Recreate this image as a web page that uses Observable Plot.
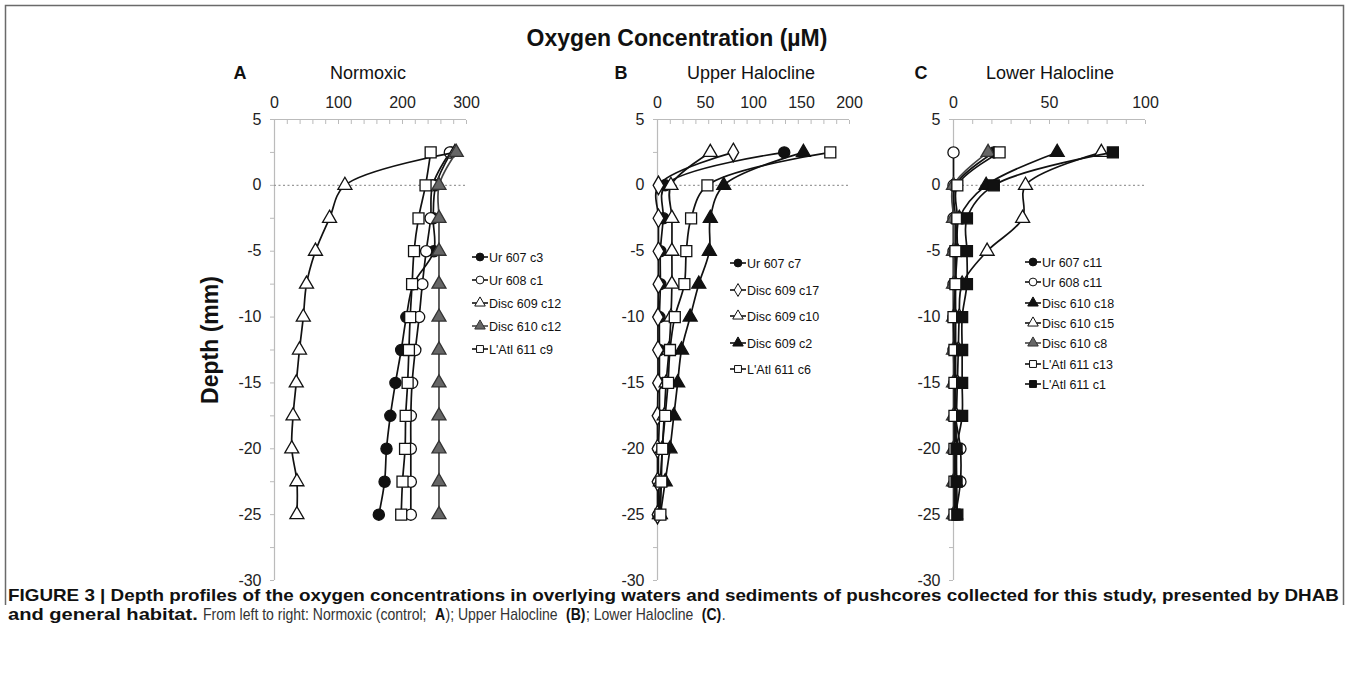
<!DOCTYPE html>
<html>
<head>
<meta charset="utf-8">
<script src="https://cdn.jsdelivr.net/npm/d3@7"></script>
<script src="https://cdn.jsdelivr.net/npm/@observablehq/plot@0.6"></script>
<style>
  html, body { margin: 0; padding: 0; background: #fff; }
  #page { position: relative; width: 1349px; height: 694px; overflow: hidden; font-family: "Liberation Sans", Arial, sans-serif; }
  .panel { position: absolute; top: 89px; }
  #overlay { position: absolute; left: 0; top: 0; }
</style>
</head>
<body>
<div id="page">
  <svg id="overlay" width="1349" height="694"></svg>
  <div class="panel" id="pA" style="left:214px"></div>
  <div class="panel" id="pB" style="left:597px"></div>
  <div class="panel" id="pC" style="left:893px"></div>
</div>
<script>
// ---------------- DATA ----------------
const depths = [2.5, 0, -2.5, -5, -7.5, -10, -12.5, -15, -17.5, -20, -22.5, -25];

// Panel A: Normoxic
const normoxicSeries = ["Ur 607 c3", "Ur 608 c1", "Disc 609 c12", "Disc 610 c12", "L'Atl 611 c9"];
const ur607c3  = [276, 252, 248, 249, 217, 206, 198, 189, 181, 175, 172, 163];
const ur608c1  = [274, 247, 244, 237, 231, 226, 220, 215, 213, 213, 213, 213];
const disc609c12 = [282, 110, 86, 64, 50, 45, 39, 34, 29, 27, 35, 35];
const disc610c12 = [284, 257, 257, 257, 257, 257, 257, 257, 257, 257, 257, 257];
const latl611c9 = [244, 236, 225, 218, 215, 212, 210, 208, 205, 204, 200, 198];

// Panel B: Upper Halocline
const upperSeries = ["Ur 607 c7", "Disc 609 c17", "Disc 609 c10", "Disc 609 c2", "L'Atl 611 c6"];
const ur607c7  = [132, 8, 6, 3, 3, 2, 2, 2, 2, 1, 1, 1];
const disc609c17 = [79, 1, 1, 1, 1, 0.5, 0.5, 0.5, 0, 0, 0, 0];
const disc609c10 = [55, 14, 15, 15, 15, 14, 12, 9, 7, 5, 3, 2];
const disc609c2  = [152, 69, 55, 54, 43, 34, 25, 21, 17, 13, 8, 3];
const latl611c6  = [180, 52, 35, 30, 28, 18, 13, 11, 8, 5, 4, 3];

// Panel C: Lower Halocline
const lowerSeries = ["Ur 607 c11", "Ur 608 c11", "Disc 610 c18", "Disc 610 c15", "Disc 610 c8", "L'Atl 611 c13", "L'Atl 611 c1"];
const ur607c11 = [21, 1, 1, 1, 1, 1, 1, 1, 1, 1.5, 1.5, 1.5];
const ur608c11 = [0, 0, 0, 0, 0, 0, 0, 0.5, 1, 3.6, 3.6, 1];
const disc610c18 = [54, 17, 3, 2, 1, 1, 1, 1, 1, 1, 1, 1];
const disc610c15 = [77, 37.5, 36, 17.5, 4.5, 3, 2.5, 2, 1.5, 1, 1, 1];
const disc610c8  = [18, 0, 0, 0, 0, 0, 0, 0, 0, 0, 0, 0];
const latl611c13 = [24, 2, 2, 1, 1, 0, 0.5, 0.5, 0.5, 0.5, 0.5, 0.5];
const latl611c1  = [83, 21, 7, 7, 7, 4.5, 4.5, 4.5, 4.5, 1.6, 1.6, 2];

const depthTicks = [5, 0, -5, -10, -15, -20, -25, -30];
const xTicksA = [0, 100, 200, 300];
const xTicksB = [0, 50, 100, 150, 200];
const xTicksC = [0, 50, 100];

// ---------------- STYLES ----------------
const K = "#111", G = "#666";
const sty = {
  fc:  {symbol: "circle",   fill: K, stroke: K, line: K},
  oc:  {symbol: "circle",   fill: "#fff", stroke: K, line: K},
  ot:  {symbol: "triangle", fill: "#fff", stroke: K, line: K},
  gt:  {symbol: "triangle", fill: G, stroke: "#333", line: "#444"},
  ft:  {symbol: "triangle", fill: K, stroke: K, line: K},
  os:  {symbol: "square",   fill: "#fff", stroke: K, line: K},
  fs:  {symbol: "square",   fill: K, stroke: K, line: K},
  od:  {symbol: "diamond",  fill: "#fff", stroke: K, line: K}
};
const symR = {circle: 5.6, triangle: 5.2, square: 6.2, diamond: 5.6};
const hyphen = d => String(d);

function panel(el, series, values, styles, xMax, xTicks, minorStep) {
  const plotW = 192, plotH = 461;
  const mL = 60, mR = 14, mT = 30, mB = 14;
  const minor = d3.range(0, xMax + 1e-6, minorStep);
  const minorY = d3.range(-30, 5 + 1e-6, 2.5);
  const marks = [
    Plot.ruleY([5], {stroke: "#bbb", strokeWidth: 1.2}),
    Plot.ruleX([0], {y1: -30, y2: 5, stroke: "#bbb", strokeWidth: 1.2}),
    Plot.axisX({anchor: "top", ticks: xTicks, tickSize: 0, tickPadding: 12, fontSize: 16, color: "#222", tickFormat: hyphen, label: null}),
    Plot.axisX({anchor: "top", ticks: minor, tickSize: -4, stroke: "#bbb", tickFormat: () => "", label: null}),
    Plot.axisY({ticks: depthTicks, tickSize: 0, tickPadding: 13, fontSize: 16, color: "#222", tickFormat: hyphen, label: null}),
    Plot.axisY({ticks: minorY, tickSize: 4, stroke: "#bbb", tickFormat: () => "", label: null}),
    Plot.ruleY([0], {stroke: "#9a9a9a", strokeDasharray: "2,2.5", strokeWidth: 1.2})
  ];
  series.forEach((s, i) => {
    const st = styles[i];
    const rows = depths.map((d, j) => ({depth: d, value: values[i][j]}));
    marks.push(Plot.line(rows, {x: "value", y: "depth", curve: "catmull-rom", stroke: st.line, strokeWidth: 1.7}));
    marks.push(Plot.dot(rows, {x: "value", y: "depth", symbol: st.symbol, r: symR[st.symbol], fill: st.fill, stroke: st.stroke, strokeWidth: 1.3}));
  });
  const chart = Plot.plot({
    width: mL + plotW + mR, height: mT + plotH + mB,
    marginLeft: mL, marginRight: mR, marginTop: mT, marginBottom: mB,
    x: {domain: [0, xMax], label: null},
    y: {domain: [-30, 5], label: null},
    style: {fontFamily: "'Liberation Sans', Arial, sans-serif", background: "transparent", overflow: "visible", color: "#222"},
    marks
  });
  document.getElementById(el).appendChild(chart);
}

panel("pA", normoxicSeries, [ur607c3, ur608c1, disc609c12, disc610c12, latl611c9],
      [sty.fc, sty.oc, sty.ot, sty.gt, sty.os], 300, xTicksA, 20);
panel("pB", upperSeries, [ur607c7, disc609c17, disc609c10, disc609c2, latl611c6],
      [sty.fc, sty.od, sty.ot, sty.ft, sty.os], 200, xTicksB, 200 / 15);
panel("pC", lowerSeries, [ur607c11, ur608c11, disc610c18, disc610c15, disc610c8, latl611c13, latl611c1],
      [sty.fc, sty.oc, sty.ft, sty.ot, sty.gt, sty.os, sty.fs], 100, xTicksC, 10);

// ---------------- OVERLAY: frame, titles, legends, caption ----------------
const svg = d3.select("#overlay");
const FF = "'Liberation Sans', Arial, sans-serif";
svg.append("path").attr("d", "M5.5,605 V5.5 H1343.5 V605").attr("fill", "none").attr("stroke", "#6a6a6a").attr("stroke-width", 1.5);

svg.append("text").attr("x", 677).attr("y", 46).attr("text-anchor", "middle")
  .attr("font-family", FF).attr("font-weight", "bold").attr("font-size", 23).attr("fill", "#111")
  .text("Oxygen Concentration (µM)");

const heads = [
  {letter: "A", lx: 240, name: "Normoxic", nx: 368},
  {letter: "B", lx: 621, name: "Upper Halocline", nx: 751},
  {letter: "C", lx: 921, name: "Lower Halocline", nx: 1050}
];
heads.forEach(h => {
  svg.append("text").attr("x", h.lx).attr("y", 79).attr("text-anchor", "middle")
    .attr("font-family", FF).attr("font-weight", "bold").attr("font-size", 18).attr("fill", "#111").text(h.letter);
  svg.append("text").attr("x", h.nx).attr("y", 79).attr("text-anchor", "middle")
    .attr("font-family", FF).attr("font-size", 18).attr("fill", "#111").text(h.name);
});

svg.append("text").attr("transform", "translate(218,340) rotate(-90)").attr("text-anchor", "middle")
  .attr("font-family", FF).attr("font-weight", "bold").attr("font-size", 23).attr("fill", "#111").text("Depth (mm)");

function legend(series, styles, x0, ys) {
  series.forEach((s, i) => {
    const st = styles[i], y = ys[i];
    svg.append("line").attr("x1", x0).attr("x2", x0 + 16).attr("y1", y).attr("y2", y)
      .attr("stroke", st.line).attr("stroke-width", 1.6);
    const type = {circle: d3.symbolCircle, triangle: d3.symbolTriangle, square: d3.symbolSquare, diamond: d3.symbolDiamond}[st.symbol];
    svg.append("path").attr("d", d3.symbol(type, 48)()).attr("transform", `translate(${x0 + 8},${y})`)
      .attr("fill", st.fill).attr("stroke", st.stroke).attr("stroke-width", 1);
    svg.append("text").attr("x", x0 + 17).attr("y", y + 4.5).attr("font-family", FF).attr("font-size", 12.5)
      .attr("fill", "#111").text(s);
  });
}
legend(normoxicSeries, [sty.fc, sty.oc, sty.ot, sty.gt, sty.os], 472, [257, 280, 303, 326, 349]);
legend(upperSeries, [sty.fc, sty.od, sty.ot, sty.ft, sty.os], 730, [263, 290, 316, 343, 369]);
legend(lowerSeries, [sty.fc, sty.oc, sty.ft, sty.ot, sty.gt, sty.os, sty.fs], 1025, [262, 282, 303, 323, 343, 364, 384]);

// caption (condensed by horizontal scales)
const capFS = 16;
const g1 = svg.append("g");
const t1 = g1.append("text").attr("x", 0).attr("y", 0).attr("font-family", FF).attr("font-size", capFS)
  .attr("font-weight", "bold").attr("fill", "#111")
  .text("FIGURE 3 | Depth profiles of the oxygen concentrations in overlying waters and sediments of pushcores collected for this study, presented by DHAB");
g1.attr("transform", `translate(8,601) scale(${1332 / t1.node().getComputedTextLength()},1)`);

const g2a = svg.append("g");
const t2a = g2a.append("text").attr("x", 0).attr("y", 0).attr("font-family", FF).attr("font-size", capFS)
  .attr("font-weight", "bold").attr("fill", "#111").text("and general habitat.");
g2a.attr("transform", `translate(8,620) scale(${190 / t2a.node().getComputedTextLength()},1)`);

const g2 = svg.append("g");
const sp = capFS * 0.278;
const parts = [
  {t: "From left to right: Normoxic (control;", b: false, gap: 2},
  {t: "A", b: true, gap: 0},
  {t: "); Upper Halocline", b: false, gap: 2},
  {t: "(B)", b: true, gap: 0},
  {t: "; Lower Halocline", b: false, gap: 2},
  {t: "(C)", b: true, gap: 0},
  {t: ".", b: false, gap: 0}
];
let cx = 0;
parts.forEach(p => {
  const t = g2.append("text").attr("x", cx).attr("y", 0).attr("font-family", FF).attr("font-size", capFS)
    .attr("font-weight", p.b ? "bold" : "normal").attr("fill", p.b ? "#111" : "#333").text(p.t);
  cx += t.node().getComputedTextLength() + p.gap * sp + 0.5;
});
g2.attr("transform", `translate(203,620) scale(${523 / cx},1)`);
</script>
</body>
</html>
